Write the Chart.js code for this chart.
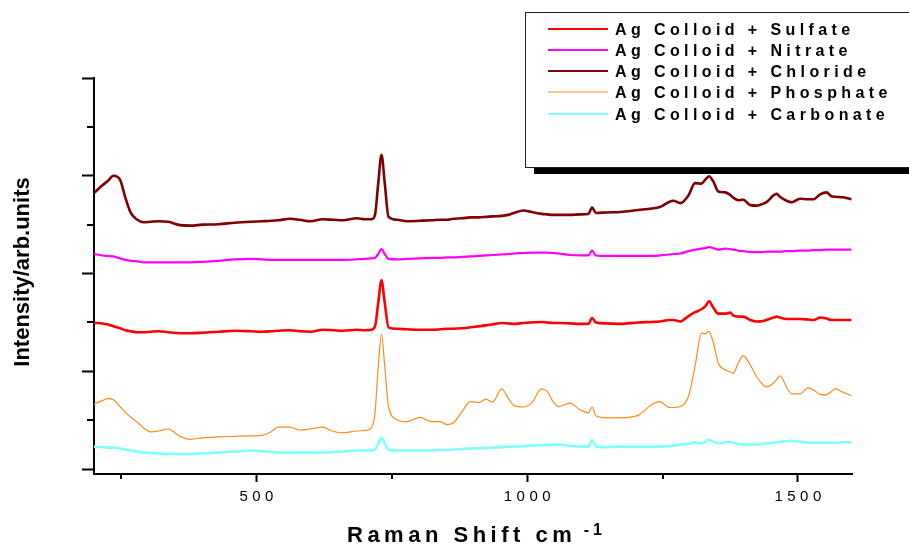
<!DOCTYPE html>
<html><head><meta charset="utf-8">
<script src="https://cdn.jsdelivr.net/npm/chart.js@4.4.0/dist/chart.umd.min.js"></script>
<style>html,body{margin:0;padding:0;background:#fff;overflow:hidden}canvas{display:block}</style>
</head><body>
<canvas id="c" width="909" height="548"></canvas>
<script>
const ramanShift = [200,215,226,236,248,258,268,280,292,305,320,337,359,378,400,430,460,490,510,528,540,562,580,600,622,642,660,685,700,712,719,725,731,737,744,760,778,802,824,840,852,864,880,895,910,924,936,953,965,976,993,1008,1027,1037,1048,1058,1079,1098,1113,1120,1127,1147,1172,1205,1230,1245,1263,1270,1283,1298,1310,1322,1329,1336,1344,1353,1366,1375,1381,1390,1399,1412,1424,1436,1442,1455,1461,1467,1479,1489,1504,1519,1529,1541,1553,1562,1569,1584,1599];

const sulfate = [2.99,2.98,2.96,2.92,2.88,2.84,2.82,2.80,2.80,2.81,2.82,2.80,2.78,2.78,2.79,2.81,2.83,2.82,2.81,2.82,2.83,2.84,2.82,2.81,2.85,2.84,2.83,2.85,2.84,2.85,2.92,3.40,3.86,3.40,2.90,2.87,2.86,2.85,2.85,2.86,2.87,2.87,2.88,2.90,2.92,2.94,2.96,2.99,2.98,2.97,2.99,3.00,3.01,3.00,2.99,2.99,2.98,2.97,2.97,3.09,3.00,2.98,2.97,3.00,3.01,3.02,3.05,3.05,3.02,3.13,3.21,3.27,3.33,3.43,3.30,3.18,3.18,3.20,3.14,3.12,3.12,3.05,3.02,3.03,3.05,3.10,3.12,3.10,3.07,3.07,3.07,3.06,3.05,3.10,3.08,3.05,3.05,3.05,3.05];

const nitrate = [4.40,4.37,4.36,4.35,4.31,4.28,4.26,4.25,4.23,4.23,4.23,4.23,4.23,4.23,4.24,4.26,4.29,4.30,4.29,4.28,4.28,4.28,4.28,4.28,4.28,4.28,4.28,4.29,4.30,4.31,4.32,4.40,4.50,4.40,4.30,4.29,4.30,4.31,4.32,4.32,4.33,4.33,4.34,4.35,4.36,4.37,4.38,4.39,4.40,4.41,4.42,4.43,4.43,4.43,4.42,4.41,4.38,4.37,4.37,4.47,4.37,4.36,4.36,4.36,4.36,4.37,4.39,4.40,4.41,4.46,4.49,4.51,4.52,4.54,4.52,4.49,4.51,4.50,4.49,4.47,4.46,4.44,4.44,4.44,4.45,4.45,4.45,4.45,4.46,4.46,4.47,4.47,4.48,4.48,4.49,4.49,4.49,4.49,4.49];

const chloride = [5.65,5.80,5.90,6.00,5.92,5.55,5.24,5.10,5.05,5.06,5.07,5.06,4.99,4.98,5.00,5.01,5.04,5.06,5.07,5.08,5.09,5.12,5.10,5.07,5.11,5.10,5.09,5.13,5.11,5.11,5.20,5.85,6.43,5.85,5.16,5.10,5.07,5.08,5.09,5.10,5.10,5.12,5.13,5.15,5.15,5.16,5.17,5.18,5.20,5.24,5.29,5.26,5.22,5.21,5.20,5.20,5.20,5.21,5.22,5.35,5.24,5.25,5.26,5.30,5.33,5.36,5.47,5.49,5.44,5.60,5.85,5.84,5.92,5.99,5.88,5.68,5.66,5.61,5.55,5.50,5.51,5.40,5.39,5.43,5.46,5.60,5.63,5.57,5.49,5.46,5.53,5.52,5.52,5.62,5.66,5.58,5.57,5.56,5.52];

const phosphate = [1.33,1.40,1.44,1.42,1.28,1.16,1.06,0.96,0.84,0.76,0.78,0.82,0.67,0.61,0.64,0.66,0.67,0.68,0.69,0.77,0.86,0.86,0.80,0.82,0.86,0.77,0.74,0.78,0.79,0.84,1.15,2.10,2.75,2.10,1.28,1.01,0.97,1.06,0.97,0.97,0.91,0.95,1.18,1.38,1.36,1.43,1.37,1.64,1.45,1.30,1.27,1.35,1.64,1.59,1.38,1.28,1.35,1.21,1.15,1.27,1.09,1.05,1.05,1.10,1.32,1.38,1.26,1.26,1.28,1.49,2.10,2.78,2.77,2.82,2.58,2.17,2.03,1.99,1.96,2.17,2.32,2.13,1.89,1.72,1.68,1.76,1.84,1.91,1.68,1.54,1.54,1.66,1.62,1.53,1.52,1.59,1.64,1.57,1.50];

const carbonate = [0.46,0.45,0.44,0.44,0.42,0.40,0.38,0.36,0.34,0.33,0.32,0.31,0.31,0.31,0.32,0.34,0.36,0.38,0.37,0.35,0.34,0.34,0.34,0.34,0.34,0.35,0.36,0.38,0.38,0.38,0.40,0.52,0.65,0.52,0.39,0.38,0.38,0.38,0.38,0.39,0.39,0.40,0.41,0.42,0.43,0.43,0.44,0.45,0.46,0.46,0.47,0.48,0.49,0.49,0.50,0.50,0.48,0.46,0.46,0.59,0.46,0.45,0.46,0.46,0.46,0.46,0.47,0.48,0.50,0.52,0.55,0.52,0.56,0.60,0.56,0.53,0.55,0.56,0.54,0.52,0.50,0.50,0.50,0.52,0.53,0.54,0.55,0.56,0.57,0.58,0.56,0.54,0.54,0.54,0.54,0.54,0.54,0.55,0.55];

const seriesLabels = ['Ag Colloid + Sulfate','Ag Colloid + Nitrate','Ag Colloid + Chloride','Ag Colloid + Phosphate','Ag Colloid + Carbonate'];
const seriesColors = ['#ff0000','#ff00ff','#800000','#ff8a1e','#80ffff'];
const legendColors = ['#ff0000','#ff00ff','#800000','#ffb060','#80ffff'];
const seriesWidths = [2.6,2.2,2.6,1.2,2.6];
const xTickValues = [250,500,750,1000,1250,1500];
const xTickLabels = ['','500','','1000','','1500'];
const yTickValues = [0,1,2,3,4,5,6,7,8];
const xTitle = 'Raman Shift cm';
const xTitleSup = '-1';
const yTitle = 'Intensity/arb.units';

const FONT = '"Liberation Sans", Arial, Helvetica, sans-serif';
const allSeries = [sulfate, nitrate, chloride, phosphate, carbonate];

function spacedWidth(ctx, text, sp){ let w=0; for(const ch of text) w+=ctx.measureText(ch).width+sp; return w-sp; }
function drawSpaced(ctx, text, x, y, sp){ for(const ch of text){ ctx.fillText(ch,x,y); x+=ctx.measureText(ch).width+sp; } return x-sp; }

const decor = {
  id:'decor',
  afterDraw(chart){
    const ctx = chart.ctx, xs = chart.scales.x, ys = chart.scales.y, a = chart.chartArea;
    ctx.save();
    ctx.strokeStyle = '#000'; ctx.lineWidth = 2;
    // minor y ticks
    yTickValues.forEach(v=>{ if(v%2!==0){ const y=Math.round(ys.getPixelForValue(v)); ctx.beginPath(); ctx.moveTo(a.left-7,y); ctx.lineTo(a.left,y); ctx.stroke(); }});
    // minor x ticks
    xTickValues.forEach((v,i)=>{ if(!xTickLabels[i]){ const x=Math.round(xs.getPixelForValue(v)); ctx.beginPath(); ctx.moveTo(x,a.bottom); ctx.lineTo(x,a.bottom+5); ctx.stroke(); }});
    // x tick labels
    ctx.fillStyle = '#000'; ctx.textBaseline = 'alphabetic'; ctx.textAlign = 'left';
    ctx.font = '15px ' + FONT;
    xTickValues.forEach((v,i)=>{ const t=xTickLabels[i]; if(t){ const x=xs.getPixelForValue(v); const w=spacedWidth(ctx,t,4.5); drawSpaced(ctx,t,x-w/2,500.5,4.5); }});
    // x title
    ctx.font = 'bold 22px ' + FONT;
    const endX = drawSpaced(ctx, xTitle, 347, 541.5, 4.5);
    ctx.font = 'bold 16px ' + FONT;
    drawSpaced(ctx, xTitleSup, endX + 12, 535, 4);
    // y title
    ctx.save();
    ctx.translate(29, 272); ctx.rotate(-Math.PI/2);
    ctx.font = 'bold 22px ' + FONT; ctx.textAlign = 'center';
    ctx.fillText(yTitle, 0, 0);
    ctx.restore();
    // legend box
    ctx.fillStyle = '#000';
    ctx.fillRect(534, 168, 380, 6);
    ctx.fillStyle = '#fff';
    ctx.fillRect(525.5, 12.5, 400, 155);
    ctx.strokeStyle = '#222'; ctx.lineWidth = 1;
    ctx.strokeRect(525.5, 12.5, 400, 155);
    const rows = [29, 50, 71, 92, 114];
    chart.data.datasets.forEach((ds,i)=>{
      const y = rows[i];
      ctx.strokeStyle = legendColors[i]; ctx.lineWidth = i===3 ? 1.3 : 2;
      ctx.beginPath(); ctx.moveTo(548, y); ctx.lineTo(608, y); ctx.stroke();
      ctx.fillStyle = '#000'; ctx.font = 'bold 16px ' + FONT; ctx.textAlign='left';
      drawSpaced(ctx, ds.label, 615, y + 5.8, 4.4);
    });
    ctx.restore();
  }
};

new Chart(document.getElementById('c'), {
  type: 'line',
  data: {
    datasets: allSeries.map((s,i)=>({
      label: seriesLabels[i],
      data: ramanShift.map((x,j)=>({x:x, y:s[j]})),
      borderColor: seriesColors[i],
      borderWidth: seriesWidths[i],
      pointRadius: 0,
      fill: false,
      cubicInterpolationMode: 'monotone'
    }))
  },
  options: {
    responsive: false,
    animation: false,
    devicePixelRatio: 1,
    layout: { padding: { top: 78, right: 57, left: 0, bottom: 0 } },
    plugins: { legend: { display: false }, tooltip: { enabled: false }, title: { display: false } },
    scales: {
      x: {
        type: 'linear', min: 200, max: 1600,
        afterBuildTicks: ax => { ax.ticks = xTickValues.map(v=>({value:v})); },
        afterFit: s => { s.height = 74; },
        ticks: { display: false },
        grid: { display: true, drawOnChartArea: false, drawTicks: true, tickLength: 8, tickWidth: 2,
          tickColor: c => (c.tick && c.tick.value % 500 === 0) ? '#000' : 'rgba(0,0,0,0)' },
        border: { display: true, color: '#000', width: 2 }
      },
      y: {
        type: 'linear', min: -0.1, max: 8,
        afterBuildTicks: ax => { ax.ticks = yTickValues.map(v=>({value:v})); },
        afterFit: s => { s.width = 94; },
        ticks: { display: false },
        grid: { display: true, drawOnChartArea: false, drawTicks: true, tickLength: 12, tickWidth: 2,
          tickColor: c => (c.tick && c.tick.value % 2 === 0) ? '#000' : 'rgba(0,0,0,0)' },
        border: { display: true, color: '#000', width: 2 }
      }
    }
  },
  plugins: [decor]
});
</script>
</body></html>
